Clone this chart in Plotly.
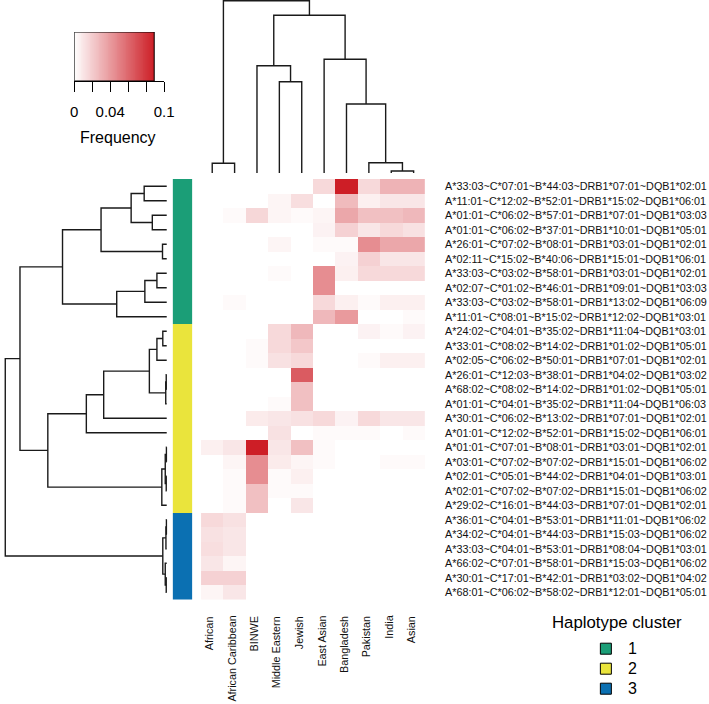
import numpy as np
import plotly.graph_objects as go

W, H = 709, 704
FONT = "Liberation Sans, Arial, Helvetica, sans-serif"

populations = ["African", "African Caribbean", "BINWE", "Middle Eastern", "Jewish",
               "East Asian", "Bangladesh", "Pakistan", "India", "Asian"]

haplotypes = [
    "A*33:03~C*07:01~B*44:03~DRB1*07:01~DQB1*02:01",
    "A*11:01~C*12:02~B*52:01~DRB1*15:02~DQB1*06:01",
    "A*01:01~C*06:02~B*57:01~DRB1*07:01~DQB1*03:03",
    "A*01:01~C*06:02~B*37:01~DRB1*10:01~DQB1*05:01",
    "A*26:01~C*07:02~B*08:01~DRB1*03:01~DQB1*02:01",
    "A*02:11~C*15:02~B*40:06~DRB1*15:01~DQB1*06:01",
    "A*33:03~C*03:02~B*58:01~DRB1*03:01~DQB1*02:01",
    "A*02:07~C*01:02~B*46:01~DRB1*09:01~DQB1*03:03",
    "A*33:03~C*03:02~B*58:01~DRB1*13:02~DQB1*06:09",
    "A*11:01~C*08:01~B*15:02~DRB1*12:02~DQB1*03:01",
    "A*24:02~C*04:01~B*35:02~DRB1*11:04~DQB1*03:01",
    "A*33:01~C*08:02~B*14:02~DRB1*01:02~DQB1*05:01",
    "A*02:05~C*06:02~B*50:01~DRB1*07:01~DQB1*02:01",
    "A*26:01~C*12:03~B*38:01~DRB1*04:02~DQB1*03:02",
    "A*68:02~C*08:02~B*14:02~DRB1*01:02~DQB1*05:01",
    "A*01:01~C*04:01~B*35:02~DRB1*11:04~DQB1*06:03",
    "A*30:01~C*06:02~B*13:02~DRB1*07:01~DQB1*02:01",
    "A*01:01~C*12:02~B*52:01~DRB1*15:02~DQB1*06:01",
    "A*01:01~C*07:01~B*08:01~DRB1*03:01~DQB1*02:01",
    "A*03:01~C*07:02~B*07:02~DRB1*15:01~DQB1*06:02",
    "A*02:01~C*05:01~B*44:02~DRB1*04:01~DQB1*03:01",
    "A*02:01~C*07:02~B*07:02~DRB1*15:01~DQB1*06:02",
    "A*29:02~C*16:01~B*44:03~DRB1*07:01~DQB1*02:01",
    "A*36:01~C*04:01~B*53:01~DRB1*11:01~DQB1*06:02",
    "A*34:02~C*04:01~B*44:03~DRB1*15:03~DQB1*06:02",
    "A*33:03~C*04:01~B*53:01~DRB1*08:04~DQB1*03:01",
    "A*66:02~C*07:01~B*58:01~DRB1*15:03~DQB1*06:02",
    "A*30:01~C*17:01~B*42:01~DRB1*03:02~DQB1*04:02",
    "A*68:01~C*06:02~B*58:02~DRB1*12:01~DQB1*05:01",
]

clusters = [1]*10 + [2]*13 + [3]*6

# frequencies per population (rows in haplotype order)
african = [0, 0, 0, 0, 0, 0, 0, 0, 0, 0, 0, 0, 0, 0, 0, 0, 0, 0, .006, 0, 0, 0, 0,
           .015, .012, .013, .010, .018, .004]
african_caribbean = [0, 0, .002, 0, 0, 0, 0, 0, .002, 0, 0, 0, 0, 0, 0, 0, 0, 0, .010, .004, .002, .002, .002,
                     .012, .010, .010, .004, .018, .010]
binwe = [0, 0, .016, 0, 0, 0, 0, 0, 0, 0, 0, .002, .002, 0, 0, 0, .008, 0, .090, .045, .045, .025, .025,
         0, 0, 0, 0, 0, 0]
middle_eastern = [0, .004, .004, 0, .004, 0, .002, 0, 0, 0, .015, .015, .012, 0, 0, .002, .010, .012, .010, .008, .002, .002, 0,
                  0, 0, 0, 0, 0, 0]
jewish = [0, .013, .002, 0, 0, 0, 0, 0, 0, 0, .028, .022, .015, .065, .025, .025, .012, 0, .025, .004, .006, .002, .010,
          0, 0, 0, 0, 0, 0]
east_asian = [.015, 0, .004, .005, .002, 0, .045, .045, .015, .028, 0, 0, 0, 0, 0, 0, .015, .002, .002, .002, 0, 0, 0,
              0, 0, 0, 0, 0, 0]
bangladesh = [.089, .027, .035, .018, .002, .005, .006, 0, .006, .040, 0, 0, 0, 0, 0, 0, .005, .002, 0, 0, 0, 0, 0,
              0, 0, 0, 0, 0, 0]
pakistan = [.015, .006, .025, .010, .045, .018, .015, 0, .002, 0, .005, 0, .002, 0, 0, 0, .015, .002, 0, 0, 0, 0, 0,
            0, 0, 0, 0, 0, 0]
india = [.030, .010, .025, .015, .035, .010, .015, 0, .006, 0, .002, 0, .006, 0, 0, 0, .010, 0, 0, .002, 0, 0, 0,
         0, 0, 0, 0, 0, 0]
asian = [.030, .010, .028, .012, .035, .010, .015, 0, .006, .002, .005, 0, .006, 0, 0, 0, .010, .002, 0, .002, 0, 0, 0,
         0, 0, 0, 0, 0, 0]

pop_values = [african, african_caribbean, binwe, middle_eastern, jewish,
              east_asian, bangladesh, pakistan, india, asian]

# dendrograms: (left, right, merge height); leaves are display-order indices
col_tree = ((0, 1, 9.7),
            ((2, (3, 4, 91.3), 107.3),
             (5, (6, (7, (8, 9, 2.0), 10.3), 69.0), 113.7), 157.7),
            172.3)

row_tree = (
    (
        (
            (((0, 1, 23.0), (2, 3, 14.7), 36.3), (4, 5, 4.3), 67.0),
            (((6, 7, 10.0), 8, 22.3), 9, 51.0),
            106.3),
        (
            (((((10, 11, 4.0), 12, 10.0), ((13, 14, 0.5), 15, 1.0), 17.7), 16, 64.3), 17, 82.0),
            (((18, 19, 0.3), (20, 21, 0.5), 1.5), 22, 5.0),
            121.3),
        149.7),
    (((23, 24, 0.3), 25, 0.8), (26, (27, 28, 0.5), 1.5), 4.0),
    164.7)

KEY_MAX = 0.089
KEY_TICKS = [0, 0.02, 0.04, 0.06, 0.08, 0.1]
KEY_TICKTEXT = ["0", "", "0.04", "", "", "0.1"]

RED = "rgb(205,30,38)"
CL_COLORS = {1: "#1B9E77", 2: "#EAE43C", 3: "#0B70B2"}


def dendro_segments(tree):
    xs, hs = [], []

    def rec(node):
        if isinstance(node, int):
            return float(node), 0.0
        left, right, h = node
        pl, hl = rec(left)
        pr, hr = rec(right)
        xs.extend([pl, pl, pr, pr, None])
        hs.extend([hl, h, h, hr, None])
        return (pl + pr) / 2.0, h

    rec(tree)
    return xs, hs


def px(p):
    return p / W


def py(p):
    return 1 - p / H


fig = go.Figure()

# main heatmap
z = [[pop_values[j][i] for j in range(len(populations))] for i in range(len(haplotypes))]
fig.add_trace(go.Heatmap(
    z=z, x=list(range(len(populations))), y=list(range(len(haplotypes))),
    colorscale=[[0, "white"], [1, RED]], zmin=0, zmax=KEY_MAX,
    showscale=False, xaxis="x", yaxis="y", hoverinfo="skip"))

# cluster side bar
g, yl, b = CL_COLORS[1], CL_COLORS[2], CL_COLORS[3]
fig.add_trace(go.Heatmap(
    z=[[c] for c in clusters], x=[0], y=list(range(len(haplotypes))),
    colorscale=[[0, g], [0.33, g], [0.34, yl], [0.66, yl], [0.67, b], [1, b]],
    zmin=1, zmax=3, showscale=False, xaxis="x2", yaxis="y2", hoverinfo="skip"))

# row dendrogram
rpos, rh = dendro_segments(row_tree)
fig.add_trace(go.Scatter(x=rh, y=rpos, mode="lines",
                         line=dict(color="#1a1a1a", width=1.4),
                         xaxis="x3", yaxis="y3", hoverinfo="skip", showlegend=False))

# column dendrogram
cpos, ch = dendro_segments(col_tree)
fig.add_trace(go.Scatter(x=cpos, y=ch, mode="lines",
                         line=dict(color="#1a1a1a", width=1.4),
                         xaxis="x4", yaxis="y4", hoverinfo="skip", showlegend=False))

# colour key
grad = np.arange(0.0005, KEY_MAX, 0.001)
fig.add_trace(go.Heatmap(
    z=[list(grad)], x=list(grad), y=[0.5],
    colorscale=[[0, "white"], [1, RED]], zmin=0, zmax=KEY_MAX,
    showscale=False, xaxis="x5", yaxis="y5", hoverinfo="skip"))

# cluster legend
fig.add_trace(go.Scatter(
    x=[14, 14, 14], y=[1, 2, 3], mode="markers",
    marker=dict(symbol="square", size=11, color=[CL_COLORS[c] for c in (1, 2, 3)],
                line=dict(color="black", width=1)),
    xaxis="x6", yaxis="y6", hoverinfo="skip", showlegend=False))

hm_x = [px(201), px(429.3)]
hm_y = [py(599.5), py(179)]
nr = len(haplotypes)
nc = len(populations)

hidden = dict(showgrid=False, zeroline=False, showticklabels=False, ticks="",
              showline=False, fixedrange=True)

fig.update_layout(
    width=W, height=H, margin=dict(l=0, r=0, t=0, b=0),
    paper_bgcolor="white", plot_bgcolor="rgba(0,0,0,0)",
    font=dict(family=FONT, color="black"),
    showlegend=False,
    xaxis=dict(domain=hm_x, range=[-0.5, nc - 0.5], anchor="y", **hidden),
    yaxis=dict(domain=hm_y, range=[nr - 0.5, -0.5], anchor="x", **hidden),
    xaxis2=dict(domain=[px(172), px(192)], range=[-0.5, 0.5], anchor="y2", **hidden),
    yaxis2=dict(domain=hm_y, range=[nr - 0.5, -0.5], anchor="x2", **hidden),
    xaxis3=dict(domain=[0, px(167)], range=[166, -1], anchor="y3", **hidden),
    yaxis3=dict(domain=hm_y, range=[nr - 0.5, -0.5], anchor="x3", **hidden),
    xaxis4=dict(domain=hm_x, range=[-0.5, nc - 0.5], anchor="y4", **hidden),
    yaxis4=dict(domain=[py(174), 1], range=[-1, 173], anchor="x4", **hidden),
    xaxis5=dict(domain=[px(71.7), px(163.3)], range=[0, 0.1], anchor="y5",
                showgrid=False, zeroline=False, showline=True, linecolor="black", linewidth=1,
                ticks="outside", ticklen=10, tickwidth=1, tickcolor="black",
                tickvals=KEY_TICKS, ticktext=KEY_TICKTEXT, ticklabelstandoff=7,
                tickfont=dict(size=15, family=FONT, color="black"), fixedrange=True),
    yaxis5=dict(domain=[py(81), py(32)], range=[0, 1], anchor="x5", **hidden),
    xaxis6=dict(domain=[px(600), px(700)], range=[0, 100], anchor="y6", **hidden),
    yaxis6=dict(domain=[py(698.7), py(638.7)], range=[3.5, 0.5], anchor="x6", **hidden),
)

# colour key outline
fig.add_shape(type="rect", xref="x5", yref="y5", x0=0, x1=KEY_MAX, y0=0, y1=1,
              line=dict(color="black", width=1), fillcolor="rgba(0,0,0,0)")

annotations = []
annotations.append(dict(text="Frequency", xref="paper", yref="paper",
                        x=px(116.5), y=py(137), xanchor="center", yanchor="middle",
                        showarrow=False, font=dict(size=16, family=FONT, color="black")))

for i, lab in enumerate(haplotypes):
    annotations.append(dict(text=lab, xref="paper", yref="y", x=px(448), y=i,
                            xanchor="left", yanchor="middle", showarrow=False,
                            font=dict(size=10.8, family=FONT, color="#111")))

for j, lab in enumerate(populations):
    annotations.append(dict(text=lab, xref="x", yref="paper", x=j, y=py(614),
                            xanchor="center", yanchor="top", textangle=-90, xshift=-3,
                            showarrow=False, font=dict(size=10.8, family=FONT, color="#111")))

annotations.append(dict(text="Haplotype cluster", xref="paper", yref="paper",
                        x=px(557), y=py(622), xanchor="left", yanchor="middle",
                        showarrow=False, font=dict(size=16.8, family=FONT, color="black")))
for c in (1, 2, 3):
    annotations.append(dict(text=str(c), xref="x6", yref="y6", x=35, y=c,
                            xanchor="left", yanchor="middle", showarrow=False,
                            font=dict(size=16, family=FONT, color="black")))

fig.update_layout(annotations=annotations)

fig.write_html("out.html",
               config={"displayModeBar": False},
               post_script="document.body.style.margin='0';document.body.style.padding='0';"
                           "document.documentElement.style.overflow='hidden';")
